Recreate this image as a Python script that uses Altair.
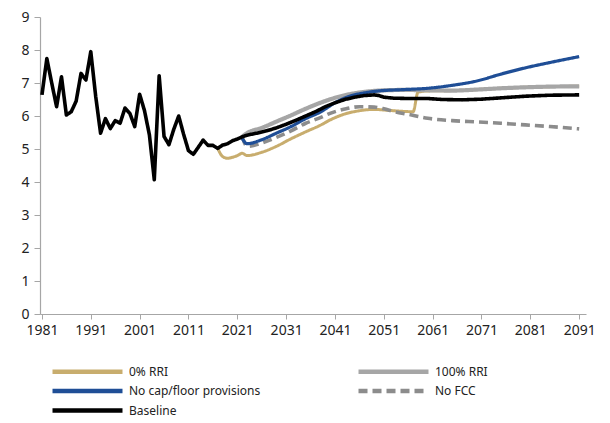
import altair as alt
import pandas as pd

# ---- data ----
hist_years = list(range(1981, 2021))
hist_vals = [6.64, 7.74, 7.00, 6.28, 7.19, 6.03, 6.13, 6.45, 7.29, 7.09,
             7.95, 6.60, 5.48, 5.92, 5.62, 5.86, 5.78, 6.24, 6.08, 5.68,
             6.66, 6.16, 5.43, 4.07, 7.22, 5.38, 5.13, 5.60, 6.00, 5.45,
             4.95, 4.84, 5.05, 5.27, 5.11, 5.11, 5.02, 5.12, 5.16, 5.25]

base_years = [2021, 2022, 2023, 2025, 2027, 2029, 2031, 2033, 2035, 2037, 2039,
              2041, 2043, 2045, 2047, 2049, 2050, 2051, 2053, 2056, 2060, 2063,
              2067, 2071, 2075, 2080, 2085, 2091]
base_vals = [5.30, 5.37, 5.42, 5.48, 5.55, 5.64, 5.75, 5.87, 6.00, 6.13, 6.28,
             6.40, 6.50, 6.57, 6.62, 6.64, 6.62, 6.57, 6.54, 6.53, 6.53, 6.50,
             6.49, 6.51, 6.55, 6.60, 6.63, 6.64]

rri0_years = [2017, 2018, 2019, 2020, 2021, 2022, 2023, 2026, 2029, 2032, 2035,
              2038, 2040, 2043, 2046, 2049, 2052, 2055, 2057, 2058, 2060, 2065,
              2070, 2075, 2080, 2085, 2091]
rri0_vals = [5.02, 4.77, 4.72, 4.75, 4.80, 4.87, 4.80, 4.90, 5.08, 5.31, 5.52,
             5.72, 5.88, 6.06, 6.16, 6.20, 6.17, 6.14, 6.13, 6.72, 6.76, 6.77,
             6.80, 6.84, 6.87, 6.89, 6.90]

rri100_years = [2022, 2023, 2026, 2029, 2032, 2035, 2038, 2041, 2044, 2047, 2050,
                2055, 2060, 2065, 2070, 2075, 2080, 2085, 2091]
rri100_vals = [5.37, 5.48, 5.64, 5.83, 6.02, 6.22, 6.40, 6.55, 6.66, 6.73, 6.77,
               6.79, 6.78, 6.77, 6.80, 6.84, 6.87, 6.89, 6.90]

nocap_years = [2022, 2023, 2026, 2029, 2032, 2035, 2038, 2041, 2044, 2047, 2050,
               2055, 2060, 2065, 2070, 2075, 2080, 2085, 2091]
nocap_vals = [5.32, 5.16, 5.28, 5.48, 5.68, 5.92, 6.12, 6.40, 6.60, 6.70, 6.76,
              6.80, 6.84, 6.93, 7.06, 7.27, 7.46, 7.62, 7.80]

nofcc_years = [2022, 2023, 2026, 2029, 2032, 2035, 2038, 2040, 2043, 2046, 2049,
               2051, 2053, 2056, 2060, 2065, 2070, 2075, 2080, 2085, 2091]
nofcc_vals = [5.38, 5.08, 5.18, 5.35, 5.55, 5.78, 5.95, 6.08, 6.21, 6.28, 6.27,
              6.22, 6.14, 6.05, 5.93, 5.86, 5.82, 5.78, 5.73, 5.68, 5.61]

# legend entries are filled column by column (3 rows x 2 columns)
series_names = ["0% RRI", "No cap/floor provisions", "Baseline", "100% RRI", "No FCC"]
series_colors = ["#C8AD6E", "#1F4E96", "#000000", "#A6A6A6", "#8C8C8C"]
series_dash = [[1, 0], [1, 0], [1, 0], [1, 0], [9, 5]]
x_ticks = [1981, 1991, 2001, 2011, 2021, 2031, 2041, 2051, 2061, 2071, 2081, 2091]
y_ticks = [0, 1, 2, 3, 4, 5, 6, 7, 8, 9]

rows = []
def add(name, ys, vs):
    for y, v in zip(ys, vs):
        rows.append({"series": name, "year": y, "value": v})

add("Baseline", hist_years + base_years, hist_vals + base_vals)
add("0% RRI", rri0_years, rri0_vals)
add("100% RRI", rri100_years, rri100_vals)
add("No cap/floor provisions", nocap_years, nocap_vals)
add("No FCC", nofcc_years, nofcc_vals)
df = pd.DataFrame(rows)

FONT = "Noto Sans"

x_enc = alt.X("year:Q", scale=alt.Scale(domain=[1980.6, 2092.4], nice=False, zero=False),
              axis=alt.Axis(values=x_ticks, format="d", title=None, grid=False,
                            labelFontSize=14, labelFont=FONT, labelColor="#222222",
                            domainColor="#A6A6A6", tickColor="#A6A6A6", tickSize=5,
                            labelPadding=4, domainWidth=1.2, labelFlush=False))
y_enc = alt.Y("value:Q", scale=alt.Scale(domain=[0, 9], nice=False),
              axis=alt.Axis(values=y_ticks, title=None, grid=False,
                            labelFontSize=14, labelFont=FONT, labelColor="#222222",
                            domainColor="#A6A6A6", tickColor="#A6A6A6", tickSize=6,
                            labelPadding=5, domainWidth=1.2, minExtent=32, maxExtent=32))

legend = alt.Legend(orient="none", legendX=10, legendY=345, columns=2, title=None,
                    symbolType="M-1,0H9", symbolSize=196, symbolStrokeWidth=4.5,
                    labelOffset=60, columnPadding=88, rowPadding=0.5, padding=0,
                    labelFontSize=12, labelFont=FONT, labelColor="#222222")

color_enc = alt.Color("series:N", scale=alt.Scale(domain=series_names, range=series_colors),
                      legend=legend)
dash_enc = alt.StrokeDash("series:N", scale=alt.Scale(domain=series_names, range=series_dash),
                          legend=legend)

def layer(name, width, interp):
    return (alt.Chart(df)
            .transform_filter(alt.datum.series == name)
            .mark_line(strokeWidth=width, interpolate=interp, strokeJoin="round")
            .encode(x=x_enc, y=y_enc, color=color_enc, strokeDash=dash_enc))

chart = alt.layer(
    layer("0% RRI", 3, "monotone"),
    layer("100% RRI", 4.2, "monotone"),
    layer("No FCC", 3.6, "monotone"),
    layer("No cap/floor provisions", 3.2, "monotone"),
    layer("Baseline", 3.6, "linear"),
).properties(
    width=546, height=297,
    autosize=alt.AutoSizeParams(type="none"),
    padding={"left": 32, "top": 9, "right": 16, "bottom": 104},
).configure_view(stroke=None)

chart.save("out.html", embed_options={"renderer": "svg", "actions": False})
